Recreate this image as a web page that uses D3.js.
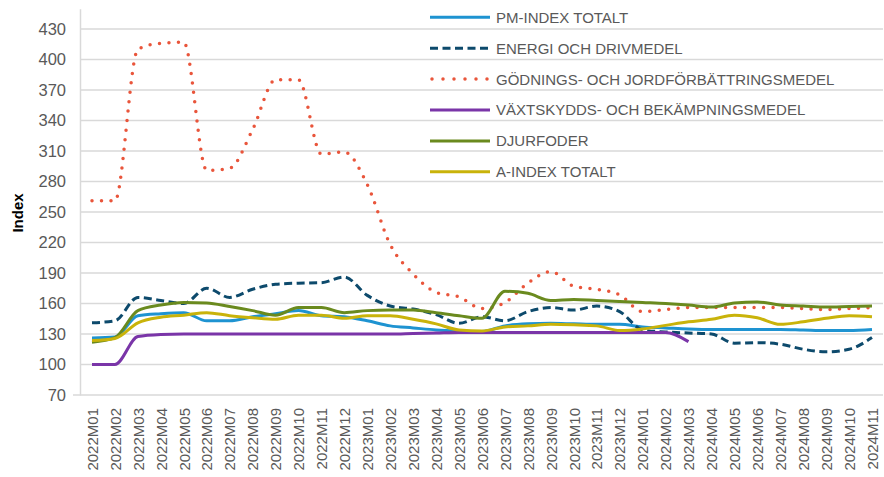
<!DOCTYPE html>
<html>
<head>
<meta charset="utf-8">
<script src="https://cdn.jsdelivr.net/npm/d3@7"></script>
<style>
  body { margin: 0; background: #fff; }
  svg text { font-family: "Liberation Sans", Arial, sans-serif; }
</style>
</head>
<body>
<svg class="chart"></svg>
<script>
// Categories (months)
const months = [
  "2022M01","2022M02","2022M03","2022M04","2022M05","2022M06","2022M07","2022M08","2022M09","2022M10","2022M11","2022M12",
  "2023M01","2023M02","2023M03","2023M04","2023M05","2023M06","2023M07","2023M08","2023M09","2023M10","2023M11","2023M12",
  "2024M01","2024M02","2024M03","2024M04","2024M05","2024M06","2024M07","2024M08","2024M09","2024M10","2024M11"
];

// Series values
const pmIndex = [126,127,148,150,151,143,143,147,150,153,148,147,
  143,138,136,134,133,132.5,138,140,140.5,140,139.5,139.5,
  137,136,135,134.5,134.5,134.5,134.5,134,133.5,133.5,134.5];
const energi = [141,143,166,163,160,175,166,174,179,180,180.5,186,
  168,157.5,154.5,149,140.5,147,143,152,156,153.5,157.5,152,
  134,132,131,130,121,121.5,120,115,112.5,115,126.5];
const godning = [261,261,410,416,417,291,293,331,380,380,307,309,
  277,218,189,171,166.5,155,161,180,191.5,177,174,168.5,
  152,154,156,156,156,156,156,155,154,155,156];
const vaxtskydd = [100,100,127.5,129.5,130,130,130,130,130,130,130,130,
  130,130,130.5,131,131.5,131.5,131.5,131.5,131.5,131.5,131.5,131.5,
  131.5,131.5,122.5,null,null,null,null,null,null,null,null];
const djurfoder = [122,126.5,153,158.5,161,160.5,157,153,148.5,156,156,151,
  153,153.5,153.5,151,148,145.5,172,170,163,164,163,162,
  161,160,158.5,156.5,160.5,161.5,158.5,157.5,156.5,157,157.5];
const aIndex = [123.5,125.5,141,146.5,148.5,151,148,146,144.5,148.5,148.5,145.5,
  148,148,144.5,140,134,133,137,138,139.5,139,138,133.5,
  135,138.5,142,144.5,148.5,146,139.5,142,145.5,148,147];

const yTicks = [70,100,130,160,190,220,250,280,310,340,370,400,430];

const seriesList = [
  { name: "PM-INDEX TOTALT", values: pmIndex, color: "#1E93D1", dash: null },
  { name: "ENERGI OCH DRIVMEDEL", values: energi, color: "#0D4A6C", dash: "8 4.5" },
  { name: "GÖDNINGS- OCH JORDFÖRBÄTTRINGSMEDEL", values: godning, color: "#E9553B", dash: "0 9.5", dotted: true },
  { name: "VÄXTSKYDDS- OCH BEKÄMPNINGSMEDEL", values: vaxtskydd, color: "#7A35A8", dash: null },
  { name: "DJURFODER", values: djurfoder, color: "#6A8A1E", dash: null },
  { name: "A-INDEX TOTALT", values: aIndex, color: "#C9B30A", dash: null }
];

const width = 884;
const height = 477;

const svg = d3.select(".chart")
    .attr("width", width)
    .attr("height", height);

// Scales
const x = d3.scalePoint()
    .domain(months)
    .range([92, 872]);

const y = d3.scaleLinear()
    .domain([70, 450])
    .range([395, 8.7]);

// Gridlines
svg.append("g")
    .selectAll("line")
    .data(yTicks.slice(1))
    .enter().append("line")
    .attr("x1", 80)
    .attr("x2", 883)
    .attr("y1", d => y(d))
    .attr("y2", d => y(d))
    .attr("stroke", "#D9D9D9")
    .attr("stroke-width", 1.5);

// Y axis
const yAxis = svg.append("g")
    .attr("transform", "translate(80,0)")
    .call(d3.axisLeft(y).tickValues(yTicks).tickSize(0).tickPadding(14));
yAxis.select(".domain").attr("stroke", "#D9D9D9").attr("stroke-width", 1.5);
yAxis.selectAll("text")
    .attr("fill", "#595959")
    .style("font-size", "16.5px");

// X axis
const xAxis = svg.append("g")
    .attr("transform", "translate(0,395)")
    .call(d3.axisBottom(x).tickSize(0).tickPadding(0));
xAxis.select(".domain").remove();
xAxis.append("line")
    .attr("x1", 73).attr("x2", 883)
    .attr("stroke", "#D9D9D9").attr("stroke-width", 1.5);
xAxis.selectAll(".tick text")
    .attr("fill", "#595959")
    .style("font-size", "15px")
    .attr("transform", "rotate(-90)")
    .attr("text-anchor", "end")
    .attr("x", -13)
    .attr("y", 0)
    .attr("dy", "0.35em");

// Y axis title
svg.append("text")
    .attr("transform", "translate(23,213) rotate(-90)")
    .attr("text-anchor", "middle")
    .style("font-size", "15px")
    .style("font-weight", "bold")
    .attr("fill", "#000")
    .text("Index");

// Lines
const line = d3.line()
    .defined(d => d.v != null)
    .x(d => x(d.m))
    .y(d => y(d.v))
    .curve(d3.curveMonotoneX);

svg.append("g")
    .selectAll("path")
    .data(seriesList)
    .enter().append("path")
    .attr("fill", "none")
    .attr("stroke", d => d.color)
    .attr("stroke-width", d => d.dotted ? 3.5 : 3)
    .attr("stroke-linecap", d => d.dotted ? "round" : "butt")
    .attr("stroke-linejoin", "round")
    .attr("stroke-dasharray", d => d.dash)
    .attr("d", d => line(d.values.map((v, i) => ({ m: months[i], v: v }))));

// Legend
const legend = svg.append("g")
    .selectAll("g")
    .data(seriesList)
    .enter().append("g")
    .attr("transform", (d, i) => `translate(430,${17.3 + i * 30.9})`);

legend.append("line")
    .attr("x1", d => d.dotted ? 2 : 0)
    .attr("x2", 60)
    .attr("stroke", d => d.color)
    .attr("stroke-width", d => d.dotted ? 3.5 : 3)
    .attr("stroke-linecap", d => d.dotted ? "round" : "butt")
    .attr("stroke-dasharray", d => d.dotted ? "0 11" : d.dash);

legend.append("text")
    .attr("x", 66)
    .attr("dy", "0.36em")
    .attr("fill", "#595959")
    .style("font-size", "15px")
    .text(d => d.name);
</script>
</body>
</html>
